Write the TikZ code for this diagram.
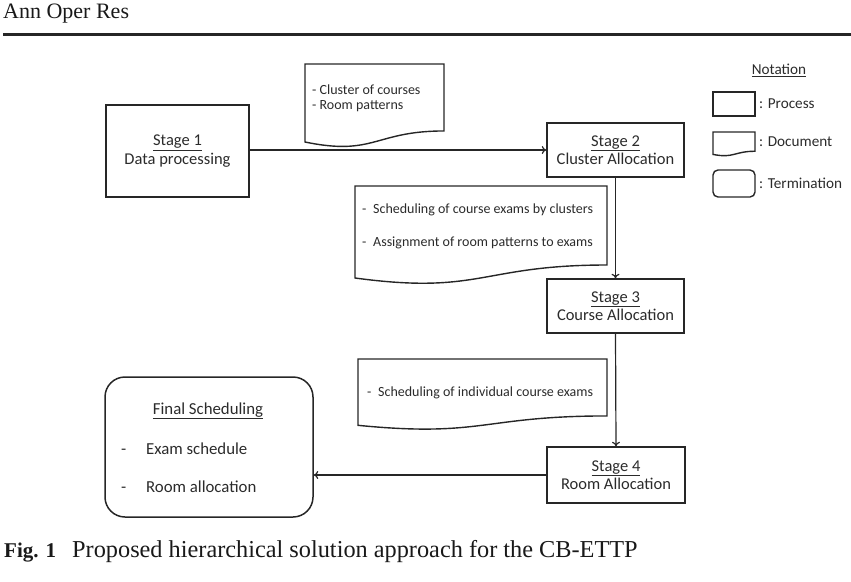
\documentclass[tikz,border=0pt]{standalone}
\usepackage{fontspec}
\setmainfont{Liberation Serif}
\newfontfamily\calib{Carlito}
\usetikzlibrary{arrows.meta}
\definecolor{linec}{HTML}{262626}
\definecolor{txtc}{HTML}{2B2B2B}
\tikzset{
  stagebox/.style={draw=linec, line width=1.5pt, inner sep=0pt, align=center, text=txtc,
    font=\calib\fontsize{16.5}{18.5}\selectfont},
  finalbox/.style={draw=linec, line width=1.5pt, inner sep=0pt, rounded corners=20pt},
  docline/.style={draw=linec, line width=1.4pt},
  doctext/.style={inner sep=0pt, anchor=west, text=txtc, font=\calib\fontsize{14}{16}\selectfont},
  bigtext/.style={inner sep=0pt, anchor=west, text=txtc, font=\calib\fontsize{16.8}{18}\selectfont},
  notetext/.style={inner sep=0pt, anchor=west, text=txtc, font=\calib\fontsize{15.2}{17}\selectfont},
  flow/.style={draw=linec, line width=1.2pt, -{To[length=4.5pt,width=8pt]}},
  serif/.style={inner sep=0pt, text=black!90},
}
\newcommand\docshape[4]{%
  \draw[docline] (#1,#2) -- ++(#3,0) -- ++(0,{0.802*#4})
    .. controls ({#1+0.5*#3},{#2+0.802*#4}) and ({#1+0.5*#3},{#2+1.107*#4}) ..
    (#1,{#2+0.934*#4}) -- cycle;}
\begin{document}
\begin{tikzpicture}[x=1pt,y=-1pt]
\useasboundingbox (0,0) rectangle (851,581);
% header
\node[serif, anchor=west, font=\fontsize{22}{24}\selectfont] (hdr) at (3,14) {Ann Oper Res};
\draw[line width=3pt, black!85] (3,34) -- (851,34);
% stages
\node[stagebox, minimum width=143pt, minimum height=92pt] (s1) at (177.5,151) {\underline{Stage 1}\\Data processing};
\node[stagebox, minimum width=137pt, minimum height=54pt] (s2) at (615.5,150) {\underline{Stage 2}\\Cluster Allocation};
\node[stagebox, minimum width=137pt, minimum height=54pt] (s3) at (615.5,306) {\underline{Stage 3}\\Course Allocation};
\node[stagebox, minimum width=138pt, minimum height=56pt] (s4) at (616,475) {\underline{Stage 4}\\Room Allocation};
\node[finalbox, minimum width=208pt, minimum height=140pt] (fin) at (209,447) {};
\node[bigtext, anchor=center] (fint) at (208,411) {\underline{Final Scheduling}};
\node[bigtext] (fa) at (121,449) {\makebox[25pt][l]{-}Exam schedule};
\node[bigtext] (fb) at (121,487) {\makebox[25pt][l]{-}Room allocation};
% documents
\docshape{305}{64}{139}{83.5}
\node[doctext] (d1a) at (312,90) {- Cluster of courses};
\node[doctext] (d1b) at (312,106) {- Room patterns};
\docshape{355}{186}{252}{98.5}
\node[doctext] (d2a) at (362,210) {\makebox[11pt][l]{-}Scheduling of course exams by clusters};
\node[doctext] (d2b) at (362,243) {\makebox[11pt][l]{-}Assignment of room patterns to exams};
\docshape{358}{359}{249}{71}
\node[doctext] (d3a) at (367,393) {\makebox[11pt][l]{-}Scheduling of individual course exams};
% connectors
\draw[flow] (s1.east |- s2.west) -- (s2.west);
\draw[flow] (s2.south) -- (s3.north);
\draw[flow] (s3.south) -- (s4.north);
\draw[flow] (s4.west) -- (s4.west -| fin.east);
% notation
\node[notetext, anchor=center] (nt) at (779,70) {\underline{Notation}};
\draw[docline] (713,92) rectangle (755,116);
\node[notetext] (np) at (759,104) {: Process};
\docshape{713}{132}{42}{24}
\node[notetext] (nd) at (759,142) {: Document};
\draw[docline, rounded corners=5pt] (713,170) rectangle (755,197);
\node[notetext] (nte) at (759,183) {: Termination};
% caption
\node[serif, anchor=base west, font=\fontsize{21}{24}\selectfont] (figl) at (4,557) {\textbf{Fig. 1}};
\node[serif, anchor=base west, font=\fontsize{24.3}{26}\selectfont] (figc) at (72,557) {Proposed hierarchical solution approach for the CB-ETTP};
\end{tikzpicture}
\end{document}
